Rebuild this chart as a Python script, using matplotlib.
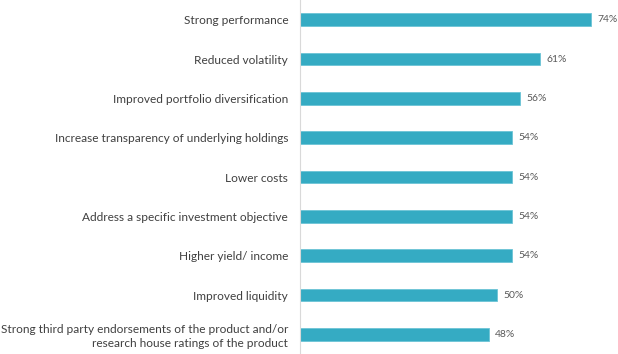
import matplotlib.pyplot as plt

categories = [
    "Strong performance",
    "Reduced volatility",
    "Improved portfolio diversification",
    "Increase transparency of underlying holdings",
    "Lower costs",
    "Address a specific investment objective",
    "Higher yield/ income",
    "Improved liquidity",
    "Strong third party endorsements of the product and/or\nresearch house ratings of the product",
]
values = [74, 61, 56, 54, 54, 54, 54, 50, 48]

plt.rcParams['font.family'] = ['Lato', 'DejaVu Sans']

fig = plt.figure(figsize=(6.18, 3.54), dpi=100)
ax = fig.add_axes([300 / 618, 0, 318 / 618, 1])

y = list(range(len(categories)))
ax.barh(y, values, height=0.33, color='#35abc3', edgecolor='#6cc4d6', linewidth=0.6)
for yi, v in zip(y, values):
    ax.text(v + 1.7, yi, f"{v}%", va='center', ha='left', fontsize=7.5, color='#595959')

ax.set_ylim(len(categories) - 0.5, -0.5)
ax.set_xlim(0, 318 / 3.93)
ax.set_yticks(y)
ax.set_yticklabels(categories, fontsize=8.6, color='#404040', ha='right', linespacing=1.35)
ax.tick_params(axis='y', length=0, pad=8.5)
ax.set_xticks([])
for s in ['top', 'right', 'bottom']:
    ax.spines[s].set_visible(False)
ax.spines['left'].set_color('#d9d9d9')
ax.spines['left'].set_linewidth(0.8)

fig.savefig('out.png', dpi=100)
